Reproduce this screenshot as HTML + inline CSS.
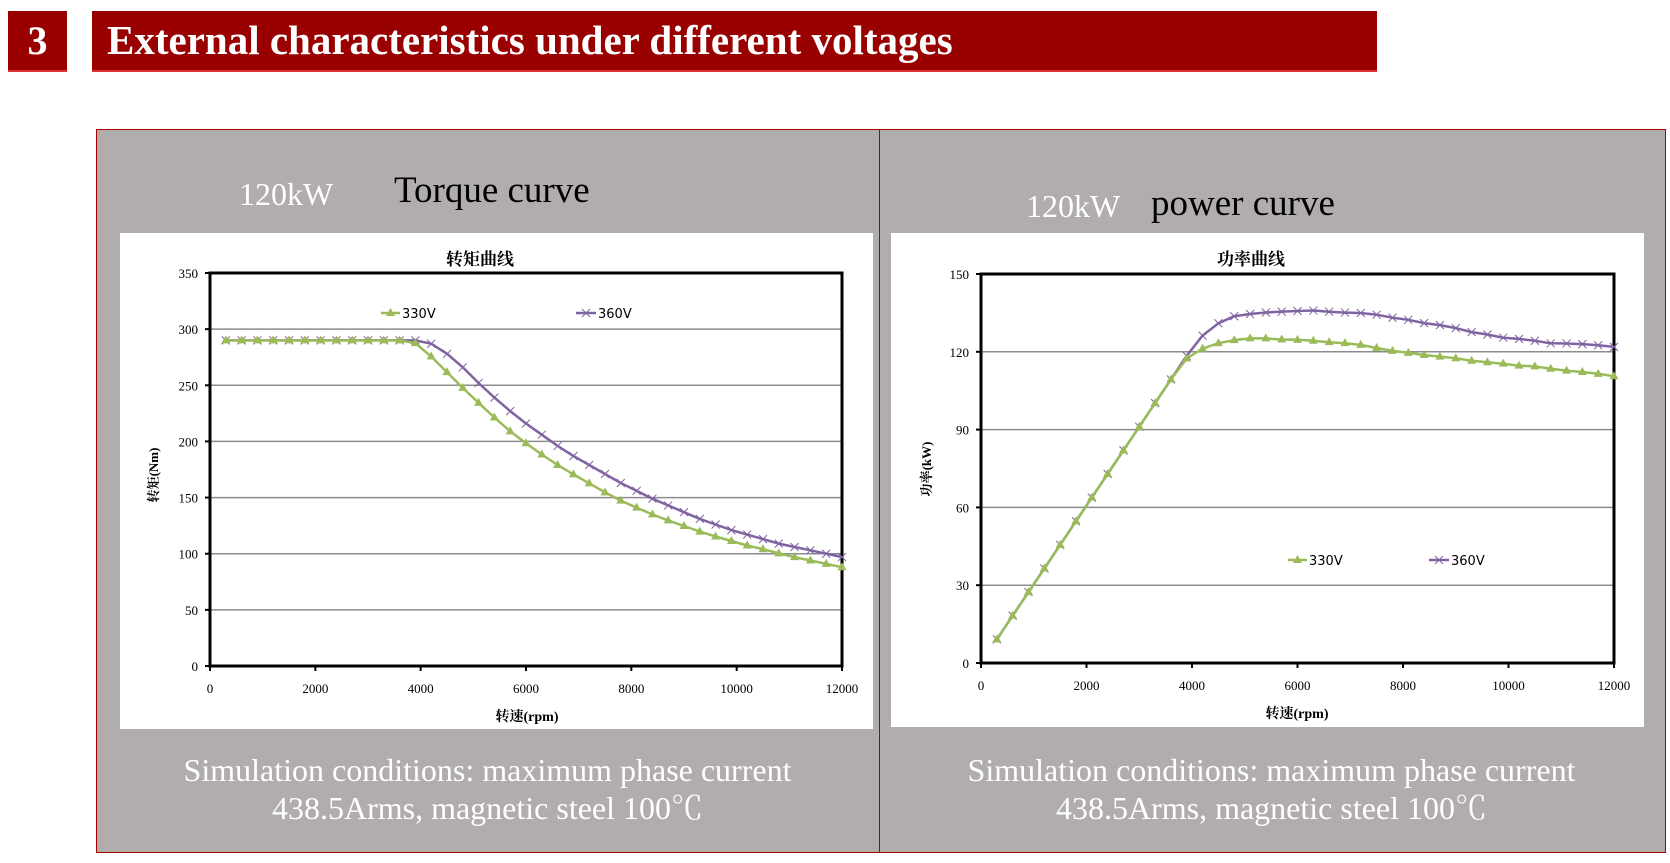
<!DOCTYPE html>
<html><head><meta charset="utf-8"><style>
body{margin:0;width:1670px;height:863px;background:#fff;position:relative;overflow:hidden;font-family:"Liberation Serif","Noto Serif CJK SC",serif}
.abs{position:absolute;line-height:1;white-space:nowrap}
</style></head><body>
<div class="abs" style="left:8px;top:11px;width:59px;height:59px;background:#990000;border-bottom:2px solid #d33;"></div>
<div class="abs" style="left:8px;top:21px;width:59px;color:#fff;font-weight:bold;font-size:40px;text-align:center">3</div>
<div class="abs" style="left:92px;top:11px;width:1285px;height:59px;background:#990000;border-bottom:2px solid #d33;"></div>
<div class="abs" style="left:107px;top:20px;color:#fff;font-weight:bold;font-size:41px">External characteristics under different voltages</div>
<div class="abs" style="left:96px;top:129px;width:1568px;height:722px;background:#b0adac;border:1px solid #a00;"></div>
<div class="abs" style="left:879px;top:129px;width:1px;height:724px;background:#a00;"></div>
<div class="abs" style="left:239px;top:178px;font-size:32px;color:#fff">120kW</div>
<div class="abs" style="left:394px;top:172px;font-size:37px;color:#000">Torque curve</div>
<div class="abs" style="left:1026px;top:190px;font-size:32px;color:#fff">120kW</div>
<div class="abs" style="left:1151px;top:185px;font-size:37px;color:#000">power curve</div>
<div class="abs" style="left:96px;top:751px;width:783px;text-align:center;font-size:32px;color:#fff;line-height:38px">Simulation conditions: maximum phase current<br>438.5Arms, magnetic steel 100℃</div>
<div class="abs" style="left:880px;top:751px;width:783px;text-align:center;font-size:32px;color:#fff;line-height:38px">Simulation conditions: maximum phase current<br>438.5Arms, magnetic steel 100℃</div>
<svg class="abs" style="left:0;top:0" width="1670" height="863" id="s"></svg>
<script>
var s=document.getElementById('s'),h='';
var rp=[],t1=[],t2=[];
var k1=[[300,290],[3800,290],[4000,285],[4300,271],[4600,257],[4900,243],[5200,230],[5500,217],[5800,205],[6100,195],[6400,185],[6700,176],[7000,168],[7300,160],[7600,152],[7900,145],[8200,139],[8500,133],[8800,128],[9100,123],[9400,118],[9700,114],[10000,110],[10300,106],[10600,103],[10900,99],[11200,96],[11500,93],[11800,90],[12000,88]];
var k2=[[300,290],[4000,290],[4200,287],[4500,278],[4800,266],[5100,252],[5400,239],[5700,227],[6000,216],[6300,206],[6600,196],[6900,187],[7200,179],[7500,171],[7800,163],[8100,156],[8400,149],[8700,143],[9000,137],[9300,131],[9600,126],[9900,121],[10200,117],[10500,113],[10800,109],[11100,106],[11400,103],[11700,100],[12000,97]];
function itp(k,x){for(var i=0;i<k.length-1;i++){if(x<=k[i+1][0]){var a=k[i],b=k[i+1];return a[1]+(b[1]-a[1])*(x-a[0])/(b[0]-a[0]);}}return k[k.length-1][1];}
for(var r=300;r<=12000;r+=300){rp.push(r);t1.push(itp(k1,r));t2.push(itp(k2,r));}
function chart(o){
 h+='<rect x="'+o.wx+'" y="'+o.wy+'" width="'+o.ww+'" height="'+o.wh+'" fill="#fff"/>';
 var X=function(v){return o.x0+(o.x1-o.x0)*v/12000},Y=function(v){return o.y0+(o.y1-o.y0)*v/o.ym};
 for(var i=1;i<o.nt;i++){var yy=Y(o.ym*i/o.nt);h+='<line x1="'+o.x0+'" x2="'+o.x1+'" y1="'+yy+'" y2="'+yy+'" stroke="#8c8c8c" stroke-width="1.5"/>';}
 for(var i=0;i<=o.nt;i++){var v=o.ym*i/o.nt,yy=Y(v);h+='<text x="'+(o.x0-12)+'" y="'+(yy+5)+'" font-size="13" text-anchor="end">'+v+'</text><line x1="'+(o.x0-5)+'" x2="'+o.x0+'" y1="'+yy+'" y2="'+yy+'" stroke="#000" stroke-width="2"/>';}
 for(var v=0;v<=12000;v+=2000){var xx=X(v);h+='<text x="'+xx+'" y="'+(o.y0+27)+'" font-size="13" text-anchor="middle">'+v+'</text><line x1="'+xx+'" x2="'+xx+'" y1="'+o.y0+'" y2="'+(o.y0+5)+'" stroke="#000" stroke-width="2"/>';}
 h+='<rect x="'+o.x0+'" y="'+o.y1+'" width="'+(o.x1-o.x0)+'" height="'+(o.y0-o.y1)+'" fill="none" stroke="#000" stroke-width="3"/>';
 [[o.d2,'#8064a2','x'],[o.d1,'#9bbb59','t']].forEach(function(q){
  var p=rp.map(function(r,i){return X(r).toFixed(1)+','+Y(q[0][i]).toFixed(1)}).join(' ');
  h+='<polyline points="'+p+'" fill="none" stroke="'+q[1]+'" stroke-width="2.5"/>';
  rp.forEach(function(r,i){var x=X(r),y=Y(q[0][i]);
   if(q[2]=='t')h+='<path d="M'+x+' '+(y-5)+'L'+(x+4.5)+' '+(y+3)+'L'+(x-4.5)+' '+(y+3)+'Z" fill="'+q[1]+'"/>';
   else h+='<path d="M'+(x-4)+' '+(y-4)+'L'+(x+4)+' '+(y+4)+'M'+(x+4)+' '+(y-4)+'L'+(x-4)+' '+(y+4)+'" stroke="'+q[1]+'" stroke-width="1"/>';});
 });
 var L=o.leg;
 h+='<line x1="'+L[0]+'" x2="'+(L[0]+19)+'" y1="'+L[2]+'" y2="'+L[2]+'" stroke="#9bbb59" stroke-width="2.5"/><path d="M'+(L[0]+9.5)+' '+(L[2]-5)+'l4.5 8h-9z" fill="#9bbb59"/><text x="'+(L[0]+21)+'" y="'+(L[2]+5)+'" font-size="13" font-family="DejaVu Sans,sans-serif">330V</text>';
 h+='<line x1="'+L[1]+'" x2="'+(L[1]+20)+'" y1="'+L[2]+'" y2="'+L[2]+'" stroke="#8064a2" stroke-width="2.5"/><path d="M'+(L[1]+6)+' '+(L[2]-4)+'l8 8M'+(L[1]+14)+' '+(L[2]-4)+'l-8 8" stroke="#8064a2" stroke-width="1"/><text x="'+(L[1]+22)+'" y="'+(L[2]+5)+'" font-size="13" font-family="DejaVu Sans,sans-serif">360V</text>';
 h+='<text x="'+o.tx+'" y="'+(o.wy+32)+'" font-size="17" font-weight="bold" text-anchor="middle">'+o.title+'</text>';
 h+='<text x="'+o.ax+'" y="'+(o.y0+55)+'" font-size="14" font-weight="bold" text-anchor="middle">转速(rpm)</text>';
 h+='<text transform="translate('+o.yl[0]+','+o.yl[1]+') rotate(-90)" font-size="13" font-weight="bold" text-anchor="middle">'+o.ylab+'</text>';
}
var p1=t1.map(function(t,i){return t*rp[i]/9549}),p2=t2.map(function(t,i){return t*rp[i]/9549});
chart({wx:120,wy:233,ww:753,wh:496,x0:210,x1:842,y0:666,y1:273,ym:350,nt:7,d1:t1,d2:t2,leg:[381,576,313],tx:480,title:'转矩曲线',ax:527,yl:[158,475],ylab:'转矩(Nm)'});
chart({wx:891,wy:233,ww:753,wh:494,x0:981,x1:1614,y0:663,y1:274,ym:150,nt:5,d1:p1,d2:p2,leg:[1288,1429,560],tx:1251,title:'功率曲线',ax:1297,yl:[931,469],ylab:'功率(kW)'});
s.innerHTML=h;
</script>
</body></html>
